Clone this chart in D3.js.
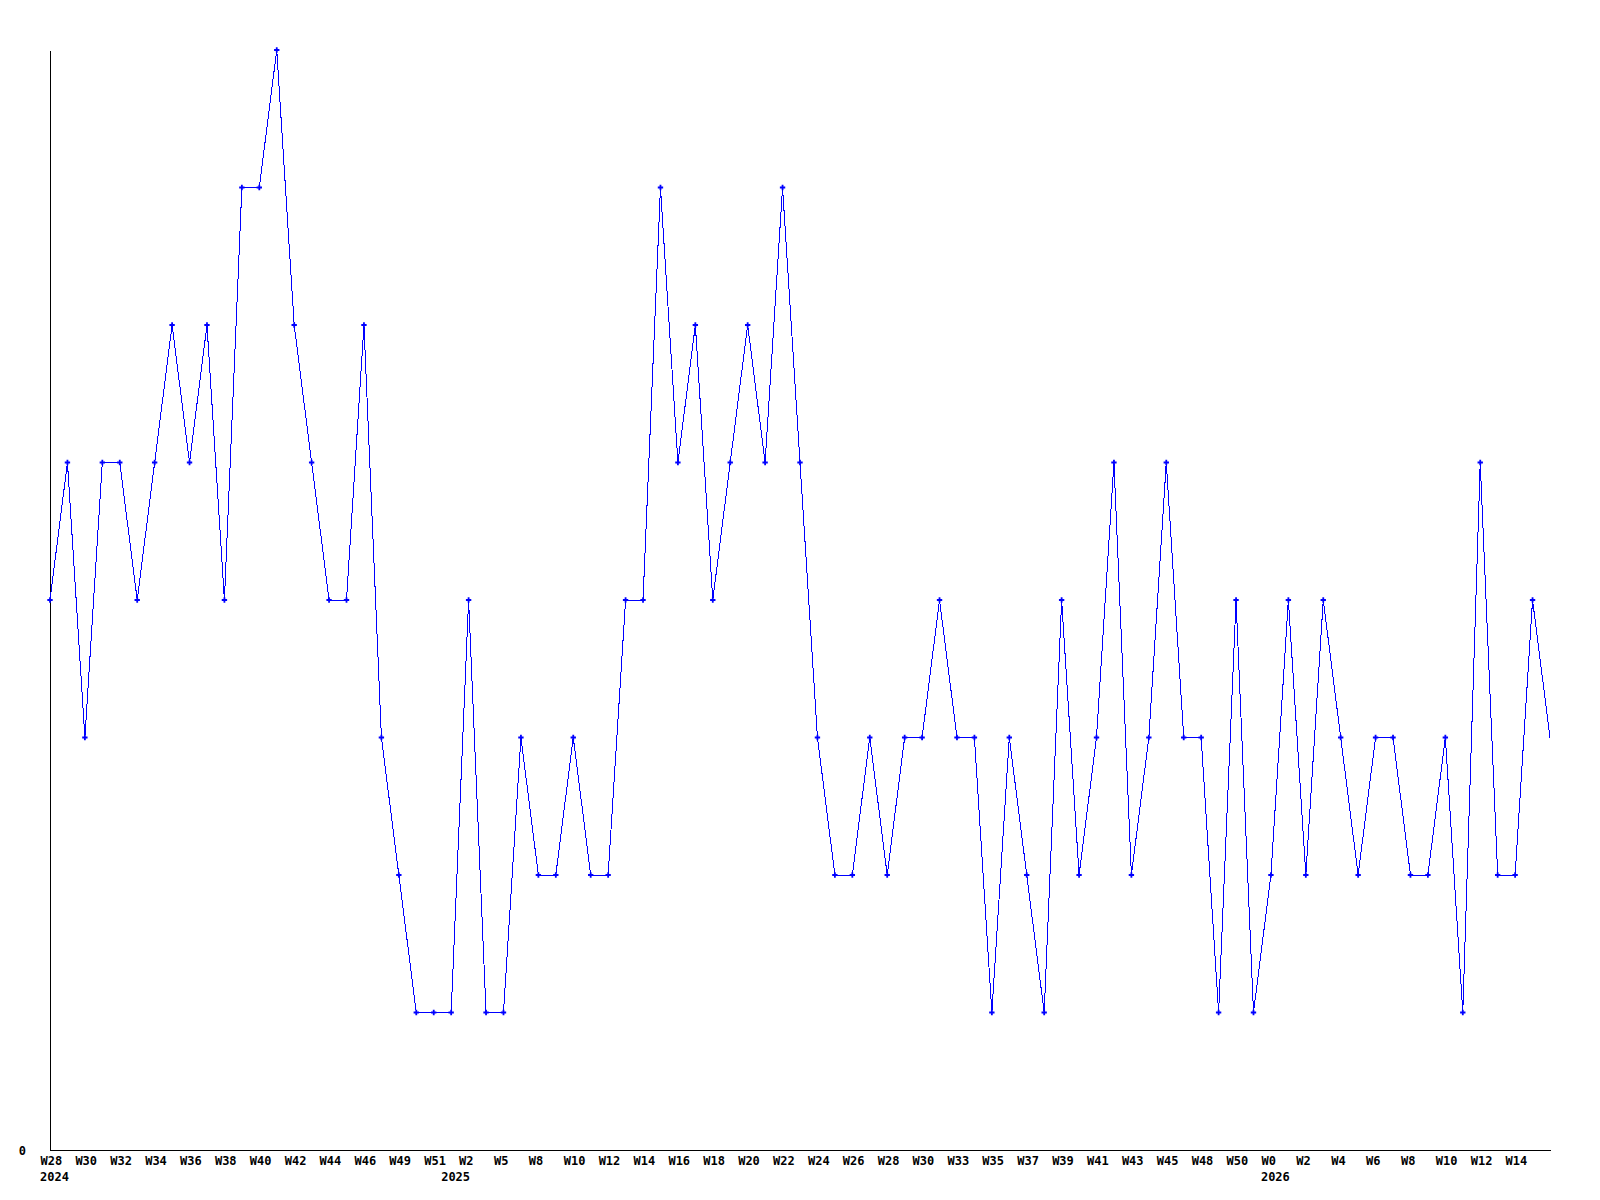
<!DOCTYPE html>
<meta charset="utf-8">
<style>
body { margin: 0; background: #fff; }
.axis path { stroke: #000; shape-rendering: crispEdges; }
.axis text { font: bold 12px "DejaVu Sans Mono", monospace; fill: #000; }
.line { fill: none; stroke: #0000ff; stroke-width: 1px; shape-rendering: crispEdges; }
.marker { fill: #0000ff; }
</style>
<svg width="1600" height="1200"></svg>
<script src="https://cdn.jsdelivr.net/npm/d3@7"></script>
<script>

// weekly counts, one per point
var values = [4,5,3,5,5,4,5,6,5,6,4,7,7,8,6,5,4,4,6,3,2,1,1,1,4,1,1,3,2,2,
              3,2,2,4,4,7,5,6,4,5,6,5,7,5,3,2,2,3,2,3,3,4,3,3,1,3,2,1,4,2,
              3,5,2,3,5,3,3,1,4,1,2,4,2,4,3,2,3,3,2,2,3,1,5,2,2,4,3];

// labels on every second point
var weekLabels = ["W28","W30","W32","W34","W36","W38","W40","W42","W44","W46",
                  "W49","W51","W2","W5","W8","W10","W12","W14","W16","W18",
                  "W20","W22","W24","W26","W28","W30","W33","W35","W37","W39",
                  "W41","W43","W45","W48","W50","W0","W2","W4","W6","W8",
                  "W10","W12","W14"];

var yearIdx = [0, 23, 70],
    yearLabels = ["2024", "2025", "2026"];

var svg = d3.select("svg"),
    margin = {top: 50, right: 50, bottom: 50, left: 50},
    width = 1600 - margin.left - margin.right,
    height = 1200 - margin.top - margin.bottom,
    g = svg.append("g").attr("transform", "translate(" + margin.left + "," + margin.top + ")");

var x = d3.scaleLinear().domain([0, values.length - 1]).range([0, width]),
    y = d3.scaleLinear().domain([0, d3.max(values)]).range([height, 0]);

var line = d3.line()
    .x(function(d, i) { return x(i); })
    .y(function(d) { return y(d); });

// x axis
var xAxis = g.append("g")
    .attr("class", "axis axis--x")
    .attr("transform", "translate(0," + height + ")")
    .call(d3.axisBottom(x)
      .tickValues(weekLabels.map(function(d, i) { return i * 2; }))
      .tickFormat(function(d) { return weekLabels[d / 2]; })
      .tickSize(0)
      .tickSizeOuter(0));

xAxis.selectAll("text")
    .attr("text-anchor", "start")
    .attr("dx", -10)
    .attr("y", 6)
    .attr("dy", "0.71em");

xAxis.selectAll(".year")
    .data(yearIdx)
  .enter().append("text")
    .attr("class", "year")
    .attr("text-anchor", "start")
    .attr("x", function(d) { return x(d) - 10; })
    .attr("y", 22)
    .attr("dy", "0.71em")
    .text(function(d, i) { return yearLabels[i]; });

// y axis, only the zero is labelled
var yAxis = g.append("g")
    .attr("class", "axis axis--y")
    .call(d3.axisLeft(y).tickValues([0]).tickSize(0).tickSizeOuter(0));

yAxis.selectAll("text")
    .attr("x", -24)
    .attr("dy", "0.35em");

g.append("path")
    .datum(values)
    .attr("class", "line")
    .attr("d", line);

// markers (last, unfinished week has none)
g.selectAll(".marker")
    .data(values.slice(0, values.length - 1))
  .enter().append("path")
    .attr("class", "marker")
    .attr("transform", function(d, i) { return "translate(" + x(i) + "," + y(d) + ")"; })
    .attr("d", d3.symbol().type(d3.symbolCross).size(16));

</script>
